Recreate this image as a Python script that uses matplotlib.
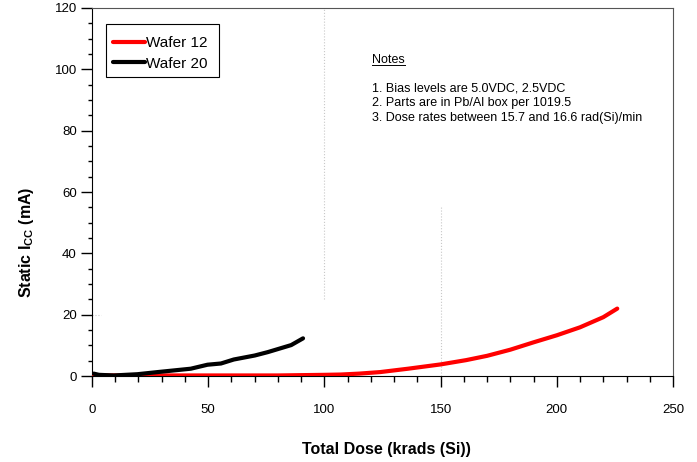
import numpy as np
import matplotlib.pyplot as plt
from matplotlib.ticker import MultipleLocator
from matplotlib.patches import Rectangle

plt.rcParams['font.family'] = ['Liberation Sans', 'DejaVu Sans']
plt.rcParams['mathtext.fontset'] = 'custom'
plt.rcParams['mathtext.rm'] = 'Liberation Sans'
plt.rcParams['mathtext.bf'] = 'Liberation Sans:bold'

# Wafer 12 (red)
dose_w12 = [0, 10, 20, 30, 40, 50, 60, 70, 80, 90, 100, 107, 115, 124, 136,
            150, 161, 170, 180, 190, 200, 210, 220, 226]
icc_w12 = [0.2, 0.2, 0.2, 0.2, 0.2, 0.2, 0.2, 0.2, 0.2, 0.3, 0.4, 0.5, 0.8, 1.3, 2.4,
           3.8, 5.2, 6.6, 8.6, 11.0, 13.3, 15.9, 19.2, 22.0]

# Wafer 20 (black)
dose_w20 = [0.7, 3, 9.4, 19.5, 29.5, 42.5, 49.7, 55.5, 61, 70, 75.6, 85.7, 90.8]
icc_w20 = [0.8, 0.4, 0.2, 0.6, 1.4, 2.4, 3.7, 4.1, 5.4, 6.7, 7.8, 10.1, 12.3]

notes = ['1. Bias levels are 5.0VDC, 2.5VDC',
         '2. Parts are in Pb/Al box per 1019.5',
         '3. Dose rates between 15.7 and 16.6 rad(Si)/min']

fig = plt.figure(figsize=(6.97, 4.62), dpi=100)
ax = fig.add_axes([0.132, 0.186, 0.8336, 0.7967])

# faint dotted artifacts seen in the original
ax.plot([100, 100], [25, 120], color='#c8c8c8', lw=0.8, ls=':', zorder=1)
ax.plot([150, 150], [0, 55], color='#c8c8c8', lw=0.8, ls=':', zorder=1)
ax.plot([0, 4], [20, 20], color='#c8c8c8', lw=0.8, ls=':', zorder=1)

ax.plot(dose_w12, icc_w12, color='red', lw=3, label='Wafer 12', solid_capstyle='round', zorder=3)
ax.plot(dose_w20, icc_w20, color='black', lw=3, label='Wafer 20', solid_capstyle='round', zorder=4)

ax.set_xlim(0, 250)
ax.set_ylim(0, 120)
ax.xaxis.set_major_locator(MultipleLocator(50))
ax.xaxis.set_minor_locator(MultipleLocator(10))
ax.yaxis.set_major_locator(MultipleLocator(20))
ax.yaxis.set_minor_locator(MultipleLocator(5))
ax.tick_params(axis='x', which='major', direction='out', length=8, width=1, pad=12, labelsize=9.5)
ax.tick_params(axis='x', which='minor', direction='out', length=4, width=1)
ax.tick_params(axis='y', which='major', direction='out', length=8, width=1, pad=3, labelsize=9.5)
ax.tick_params(axis='y', which='minor', direction='out', length=3, width=1)
for s in ['top', 'right']:
    ax.spines[s].set_color('#555555')

ax.set_xlabel('Total Dose (krads (Si))', fontsize=11.5, fontweight='bold')
ax.xaxis.set_label_coords(0.506, -0.18)
ax.set_ylabel(r'Static I$_\mathbf{CC}$ (mA)', fontsize=11.5, fontweight='bold')
ax.yaxis.set_label_coords(-0.097, 0.363)

# legend box drawn separately so the entries can sit a bit low like the original
ax.add_patch(Rectangle((0.0241, 0.8129), 0.1945, 0.1437, transform=ax.transAxes,
                       facecolor='white', edgecolor='black', lw=0.8, zorder=5))
leg = ax.legend(loc='upper left', bbox_to_anchor=(0.036, 0.924), fontsize=11,
                frameon=False, handlelength=2.1, handletextpad=0.05, borderpad=0,
                labelspacing=0.45, borderaxespad=0)
leg.set_zorder(6)

notes_title = ax.text(0.482, 0.859, 'Notes', transform=ax.transAxes, fontsize=9,
                      ha='left', va='center')
for i, line in enumerate(notes):
    ax.text(0.482, 0.780 - i * 0.039, line, transform=ax.transAxes, fontsize=9,
            ha='left', va='center')

# underline for "Notes"
fig.canvas.draw()
bb = notes_title.get_window_extent().transformed(ax.transAxes.inverted())
ax.plot([bb.x0, bb.x1], [bb.y0 + 0.003, bb.y0 + 0.003], transform=ax.transAxes,
        color='black', lw=0.7)

fig.savefig('out.png', dpi=100)
